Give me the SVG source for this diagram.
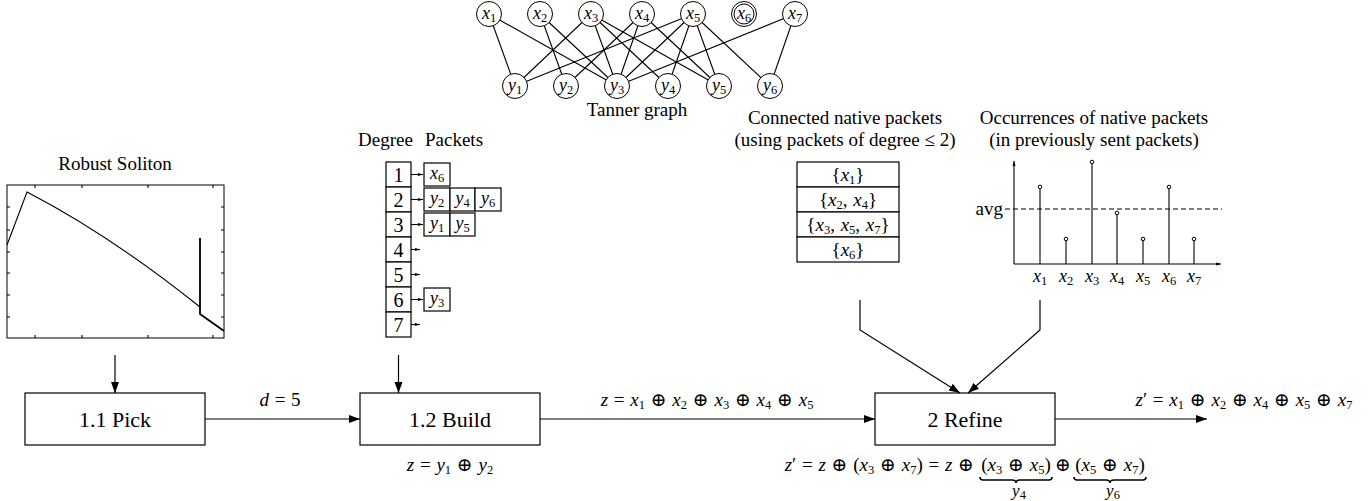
<svg xmlns="http://www.w3.org/2000/svg" width="1372" height="501" viewBox="0 0 1372 501">
<style>
text{font-family:"Liberation Serif","DejaVu Serif",serif;fill:#000}
.t{font-size:19px}
.lbl{font-size:22px}
.m{font-size:19px;word-spacing:1px}
.n{font-size:18px}
.i{font-style:italic}
.s{font-size:12.5px}
.box{fill:#fff;stroke:#000;stroke-width:1.2}
.ln{fill:none;stroke:#000;stroke-width:1.1}
.nd{fill:#fff;stroke:#000;stroke-width:1}
.conn{fill:none;stroke:#000;stroke-width:1.2}
</style>
<defs>
<marker id="ah" markerUnits="userSpaceOnUse" markerWidth="12" markerHeight="10" refX="11" refY="5" orient="auto">
<path d="M0,1 L11,5 L0,9 Z" fill="#000"/>
</marker>
<marker id="sm" markerUnits="userSpaceOnUse" markerWidth="5" markerHeight="4" refX="5" refY="2" orient="auto">
<path d="M0,0.5 L5,2 L0,3.5 Z" fill="#000"/>
</marker>
</defs>

<!-- Tanner graph -->
<g id="tanner">
<g class="ln">
<line x1="489" y1="14" x2="515" y2="86"/>
<line x1="489" y1="14" x2="617" y2="86"/>
<line x1="540" y1="14" x2="566" y2="86"/>
<line x1="540" y1="14" x2="617" y2="86"/>
<line x1="591" y1="14" x2="515" y2="86"/>
<line x1="591" y1="14" x2="617" y2="86"/>
<line x1="591" y1="14" x2="668" y2="86"/>
<line x1="591" y1="14" x2="719" y2="86"/>
<line x1="642" y1="14" x2="566" y2="86"/>
<line x1="642" y1="14" x2="617" y2="86"/>
<line x1="642" y1="14" x2="719" y2="86"/>
<line x1="693" y1="14" x2="515" y2="86"/>
<line x1="693" y1="14" x2="617" y2="86"/>
<line x1="693" y1="14" x2="668" y2="86"/>
<line x1="693" y1="14" x2="719" y2="86"/>
<line x1="693" y1="14" x2="770" y2="86"/>
<line x1="795" y1="14" x2="617" y2="86"/>
<line x1="795" y1="14" x2="770" y2="86"/>
</g>
<g id="x1"><circle class="nd" cx="489" cy="14" r="12.5"/><text class="n" x="489" y="19" text-anchor="middle"><tspan class="i">x</tspan><tspan class="s" dy="3">1</tspan></text></g>
<g id="x2"><circle class="nd" cx="540" cy="14" r="12.5"/><text class="n" x="540" y="19" text-anchor="middle"><tspan class="i">x</tspan><tspan class="s" dy="3">2</tspan></text></g>
<g id="x3"><circle class="nd" cx="591" cy="14" r="12.5"/><text class="n" x="591" y="19" text-anchor="middle"><tspan class="i">x</tspan><tspan class="s" dy="3">3</tspan></text></g>
<g id="x4"><circle class="nd" cx="642" cy="14" r="12.5"/><text class="n" x="642" y="19" text-anchor="middle"><tspan class="i">x</tspan><tspan class="s" dy="3">4</tspan></text></g>
<g id="x5"><circle class="nd" cx="693" cy="14" r="12.5"/><text class="n" x="693" y="19" text-anchor="middle"><tspan class="i">x</tspan><tspan class="s" dy="3">5</tspan></text></g>
<g id="x6"><circle class="nd" cx="744" cy="14" r="12.5"/><circle class="nd" cx="744" cy="14" r="10"/><text class="n" x="744" y="19" text-anchor="middle"><tspan class="i">x</tspan><tspan class="s" dy="3">6</tspan></text></g>
<g id="x7"><circle class="nd" cx="795" cy="14" r="12.5"/><text class="n" x="795" y="19" text-anchor="middle"><tspan class="i">x</tspan><tspan class="s" dy="3">7</tspan></text></g>
<g id="y1"><circle class="nd" cx="515" cy="86" r="12.5"/><text class="n" x="515" y="91" text-anchor="middle"><tspan class="i">y</tspan><tspan class="s" dy="3">1</tspan></text></g>
<g id="y2"><circle class="nd" cx="566" cy="86" r="12.5"/><text class="n" x="566" y="91" text-anchor="middle"><tspan class="i">y</tspan><tspan class="s" dy="3">2</tspan></text></g>
<g id="y3"><circle class="nd" cx="617" cy="86" r="12.5"/><text class="n" x="617" y="91" text-anchor="middle"><tspan class="i">y</tspan><tspan class="s" dy="3">3</tspan></text></g>
<g id="y4"><circle class="nd" cx="668" cy="86" r="12.5"/><text class="n" x="668" y="91" text-anchor="middle"><tspan class="i">y</tspan><tspan class="s" dy="3">4</tspan></text></g>
<g id="y5"><circle class="nd" cx="719" cy="86" r="12.5"/><text class="n" x="719" y="91" text-anchor="middle"><tspan class="i">y</tspan><tspan class="s" dy="3">5</tspan></text></g>
<g id="y6"><circle class="nd" cx="770" cy="86" r="12.5"/><text class="n" x="770" y="91" text-anchor="middle"><tspan class="i">y</tspan><tspan class="s" dy="3">6</tspan></text></g>
<text class="t" x="637" y="116" text-anchor="middle" font-size="17">Tanner graph</text>
</g>

<!-- Robust Soliton plot -->
<g id="soliton">
<text class="t" x="115" y="170" text-anchor="middle">Robust Soliton</text>
<rect x="7" y="185" width="217" height="153" fill="#fff" stroke="#000" stroke-width="1"/>
<path class="ln" stroke-width="0.8" d="M7,207h3M7,230h3M7,252h3M7,273h3M7,295h3M7,317h3M224,207h-3M224,230h-3M224,252h-3M224,273h-3M224,295h-3M224,317h-3M35,338v-3M82,338v-3M148,338v-3M213,338v-3M35,185v3M82,185v3M148,185v3M213,185v3"/>
<path class="ln" d="M7,245 L27,192 Q110,235 200,307"/>
<path fill="none" stroke="#000" stroke-width="1.8" d="M200,238 V314 L224,331"/>
</g>

<!-- Degree table -->
<g id="degree-table">
<text class="t" x="358" y="146">Degree</text>
<text class="t" x="425" y="146">Packets</text>
<g class="box">
<rect x="386" y="162" width="25" height="25"/>
<rect x="386" y="187" width="25" height="25"/>
<rect x="386" y="212" width="25" height="25"/>
<rect x="386" y="237" width="25" height="25"/>
<rect x="386" y="262" width="25" height="25"/>
<rect x="386" y="287" width="25" height="25"/>
<rect x="386" y="312" width="25" height="25"/>
</g>
<g>
<text x="398.5" y="181.5" text-anchor="middle" font-size="20">1</text>
<text x="398.5" y="206.5" text-anchor="middle" font-size="20">2</text>
<text x="398.5" y="231.5" text-anchor="middle" font-size="20">3</text>
<text x="398.5" y="256.5" text-anchor="middle" font-size="20">4</text>
<text x="398.5" y="281.5" text-anchor="middle" font-size="20">5</text>
<text x="398.5" y="306.5" text-anchor="middle" font-size="20">6</text>
<text x="398.5" y="331.5" text-anchor="middle" font-size="20">7</text>
</g>
<g class="ln" stroke-width="0.9" marker-end="url(#sm)">
<line x1="411" y1="174.5" x2="423" y2="174.5"/>
<line x1="411" y1="199.5" x2="423" y2="199.5"/>
<line x1="411" y1="224.5" x2="423" y2="224.5"/>
<line x1="411" y1="249.5" x2="420" y2="249.5"/>
<line x1="411" y1="274.5" x2="420" y2="274.5"/>
<line x1="411" y1="299.5" x2="423" y2="299.5"/>
<line x1="411" y1="324.5" x2="420" y2="324.5"/>
</g>
<g class="box" stroke-width="1">
<rect x="424" y="163" width="26" height="23"/>
<rect x="424" y="188" width="26" height="23"/>
<rect x="450" y="188" width="25" height="23"/>
<rect x="475" y="188" width="26" height="23"/>
<rect x="424" y="213" width="26" height="23"/>
<rect x="450" y="213" width="25" height="23"/>
<rect x="424" y="288" width="26" height="23"/>
</g>
<g class="n">
<text x="437" y="179" text-anchor="middle"><tspan class="i">x</tspan><tspan class="s" dy="3">6</tspan></text>
<text x="437" y="204" text-anchor="middle"><tspan class="i">y</tspan><tspan class="s" dy="3">2</tspan></text>
<text x="462.5" y="204" text-anchor="middle"><tspan class="i">y</tspan><tspan class="s" dy="3">4</tspan></text>
<text x="488" y="204" text-anchor="middle"><tspan class="i">y</tspan><tspan class="s" dy="3">6</tspan></text>
<text x="437" y="229" text-anchor="middle"><tspan class="i">y</tspan><tspan class="s" dy="3">1</tspan></text>
<text x="462.5" y="229" text-anchor="middle"><tspan class="i">y</tspan><tspan class="s" dy="3">5</tspan></text>
<text x="437" y="304" text-anchor="middle"><tspan class="i">y</tspan><tspan class="s" dy="3">3</tspan></text>
</g>
</g>

<!-- Connected native packets -->
<g id="connected">
<text class="t" x="845" y="124" text-anchor="middle">Connected native packets</text>
<text class="t" x="845" y="146" text-anchor="middle">(using packets of degree ≤ 2)</text>
<g class="box">
<rect x="797" y="162" width="102" height="25"/>
<rect x="797" y="187" width="102" height="25"/>
<rect x="797" y="212" width="102" height="25"/>
<rect x="797" y="237" width="102" height="25"/>
</g>
<g class="m">
<text x="848" y="181" text-anchor="middle">{<tspan class="i">x</tspan><tspan class="s" dy="3">1</tspan><tspan dy="-3">}</tspan></text>
<text x="848" y="206" text-anchor="middle">{<tspan class="i">x</tspan><tspan class="s" dy="3">2</tspan><tspan dy="-3">, </tspan><tspan class="i">x</tspan><tspan class="s" dy="3">4</tspan><tspan dy="-3">}</tspan></text>
<text x="848" y="231" text-anchor="middle">{<tspan class="i">x</tspan><tspan class="s" dy="3">3</tspan><tspan dy="-3">, </tspan><tspan class="i">x</tspan><tspan class="s" dy="3">5</tspan><tspan dy="-3">, </tspan><tspan class="i">x</tspan><tspan class="s" dy="3">7</tspan><tspan dy="-3">}</tspan></text>
<text x="848" y="256" text-anchor="middle">{<tspan class="i">x</tspan><tspan class="s" dy="3">6</tspan><tspan dy="-3">}</tspan></text>
</g>
</g>

<!-- Occurrences chart -->
<g id="occurrences">
<text class="t" x="1094" y="124" text-anchor="middle">Occurrences of native packets</text>
<text class="t" x="1094" y="146" text-anchor="middle">(in previously sent packets)</text>
<line class="ln" x1="1014" y1="264" x2="1014" y2="161" marker-end="url(#sm)"/>
<line class="ln" x1="1014" y1="264" x2="1221" y2="264" marker-end="url(#sm)"/>
<line class="ln" x1="1005" y1="209" x2="1222" y2="209" stroke-dasharray="5,3"/>
<text class="t" x="1003" y="215" text-anchor="end">avg</text>
<g class="ln">
<line x1="1040" y1="264" x2="1040" y2="187"/>
<line x1="1066" y1="264" x2="1066" y2="239"/>
<line x1="1092" y1="264" x2="1092" y2="162"/>
<line x1="1117" y1="264" x2="1117" y2="213"/>
<line x1="1143" y1="264" x2="1143" y2="239"/>
<line x1="1169" y1="264" x2="1169" y2="187"/>
<line x1="1194" y1="264" x2="1194" y2="239"/>
</g>
<g class="nd" stroke-width="0.9">
<circle cx="1040" cy="187" r="1.8"/>
<circle cx="1066" cy="239" r="1.8"/>
<circle cx="1092" cy="162" r="1.8"/>
<circle cx="1117" cy="213" r="1.8"/>
<circle cx="1143" cy="239" r="1.8"/>
<circle cx="1169" cy="187" r="1.8"/>
<circle cx="1194" cy="239" r="1.8"/>
</g>
<g class="n">
<text x="1040" y="282" text-anchor="middle"><tspan class="i">x</tspan><tspan class="s" dy="3">1</tspan></text>
<text x="1066" y="282" text-anchor="middle"><tspan class="i">x</tspan><tspan class="s" dy="3">2</tspan></text>
<text x="1092" y="282" text-anchor="middle"><tspan class="i">x</tspan><tspan class="s" dy="3">3</tspan></text>
<text x="1117" y="282" text-anchor="middle"><tspan class="i">x</tspan><tspan class="s" dy="3">4</tspan></text>
<text x="1143" y="282" text-anchor="middle"><tspan class="i">x</tspan><tspan class="s" dy="3">5</tspan></text>
<text x="1169" y="282" text-anchor="middle"><tspan class="i">x</tspan><tspan class="s" dy="3">6</tspan></text>
<text x="1194" y="282" text-anchor="middle"><tspan class="i">x</tspan><tspan class="s" dy="3">7</tspan></text>
</g>
</g>

<!-- Process boxes -->
<g id="pick"><rect class="box" x="25" y="393" width="180" height="52"/><text class="lbl" x="115" y="427" text-anchor="middle">1.1 Pick</text></g>
<g id="build"><rect class="box" x="360" y="393" width="180" height="52"/><text class="lbl" x="450" y="427" text-anchor="middle">1.2 Build</text></g>
<g id="refine"><rect class="box" x="875" y="393" width="180" height="52"/><text class="lbl" x="965" y="427" text-anchor="middle">2 Refine</text></g>

<!-- Connectors -->
<g id="connectors" class="conn" marker-end="url(#ah)">
<line x1="115" y1="355" x2="115" y2="393"/>
<line x1="398.5" y1="355" x2="398.5" y2="393"/>
<line x1="205" y1="419" x2="360" y2="419"/>
<line x1="540" y1="419" x2="875" y2="419"/>
<line x1="1055" y1="419" x2="1207" y2="419"/>
<polyline points="860,300 860,330 960,393"/>
<polyline points="1040,300 1040,330 968,393"/>
</g>

<!-- Connector labels -->
<g id="labels" class="m">
<text x="280" y="406" text-anchor="middle"><tspan class="i">d</tspan> = 5</text>
<text x="707" y="406" text-anchor="middle"><tspan class="i">z</tspan> = <tspan class="i">x</tspan><tspan class="s" dy="3">1</tspan><tspan dy="-3"> ⊕ </tspan><tspan class="i">x</tspan><tspan class="s" dy="3">2</tspan><tspan dy="-3"> ⊕ </tspan><tspan class="i">x</tspan><tspan class="s" dy="3">3</tspan><tspan dy="-3"> ⊕ </tspan><tspan class="i">x</tspan><tspan class="s" dy="3">4</tspan><tspan dy="-3"> ⊕ </tspan><tspan class="i">x</tspan><tspan class="s" dy="3">5</tspan></text>
<text x="1244" y="406" text-anchor="middle"><tspan class="i">z</tspan>′ = <tspan class="i">x</tspan><tspan class="s" dy="3">1</tspan><tspan dy="-3"> ⊕ </tspan><tspan class="i">x</tspan><tspan class="s" dy="3">2</tspan><tspan dy="-3"> ⊕ </tspan><tspan class="i">x</tspan><tspan class="s" dy="3">4</tspan><tspan dy="-3"> ⊕ </tspan><tspan class="i">x</tspan><tspan class="s" dy="3">5</tspan><tspan dy="-3"> ⊕ </tspan><tspan class="i">x</tspan><tspan class="s" dy="3">7</tspan></text>
<text x="450" y="471" text-anchor="middle"><tspan class="i">z</tspan> = <tspan class="i">y</tspan><tspan class="s" dy="3">1</tspan><tspan dy="-3"> ⊕ </tspan><tspan class="i">y</tspan><tspan class="s" dy="3">2</tspan></text>
<text x="974" y="471" text-anchor="end"><tspan class="i">z</tspan>′ = <tspan class="i">z</tspan> ⊕ (<tspan class="i">x</tspan><tspan class="s" dy="3">3</tspan><tspan dy="-3"> ⊕ </tspan><tspan class="i">x</tspan><tspan class="s" dy="3">7</tspan><tspan dy="-3">) = </tspan><tspan class="i">z</tspan> ⊕</text>
<text x="1016" y="471" text-anchor="middle">(<tspan class="i">x</tspan><tspan class="s" dy="3">3</tspan><tspan dy="-3"> ⊕ </tspan><tspan class="i">x</tspan><tspan class="s" dy="3">5</tspan><tspan dy="-3">)</tspan></text>
<text x="1063" y="471" text-anchor="middle">⊕</text>
<text x="1110" y="471" text-anchor="middle">(<tspan class="i">x</tspan><tspan class="s" dy="3">5</tspan><tspan dy="-3"> ⊕ </tspan><tspan class="i">x</tspan><tspan class="s" dy="3">7</tspan><tspan dy="-3">)</tspan></text>
<path fill="none" stroke="#000" stroke-width="1.6" d="M980,477 q0,3 3,3 H1012 q4,0 4,3 q0,-3 4,-3 H1049 q3,0 3,-3"/>
<path fill="none" stroke="#000" stroke-width="1.6" d="M1074,477 q0,3 3,3 H1106 q4,0 4,3 q0,-3 4,-3 H1143 q3,0 3,-3"/>
<text x="1019" y="496" text-anchor="middle" font-size="17"><tspan class="i">y</tspan><tspan class="s" dy="3">4</tspan></text>
<text x="1113" y="496" text-anchor="middle" font-size="17"><tspan class="i">y</tspan><tspan class="s" dy="3">6</tspan></text>
</g>
</svg>
